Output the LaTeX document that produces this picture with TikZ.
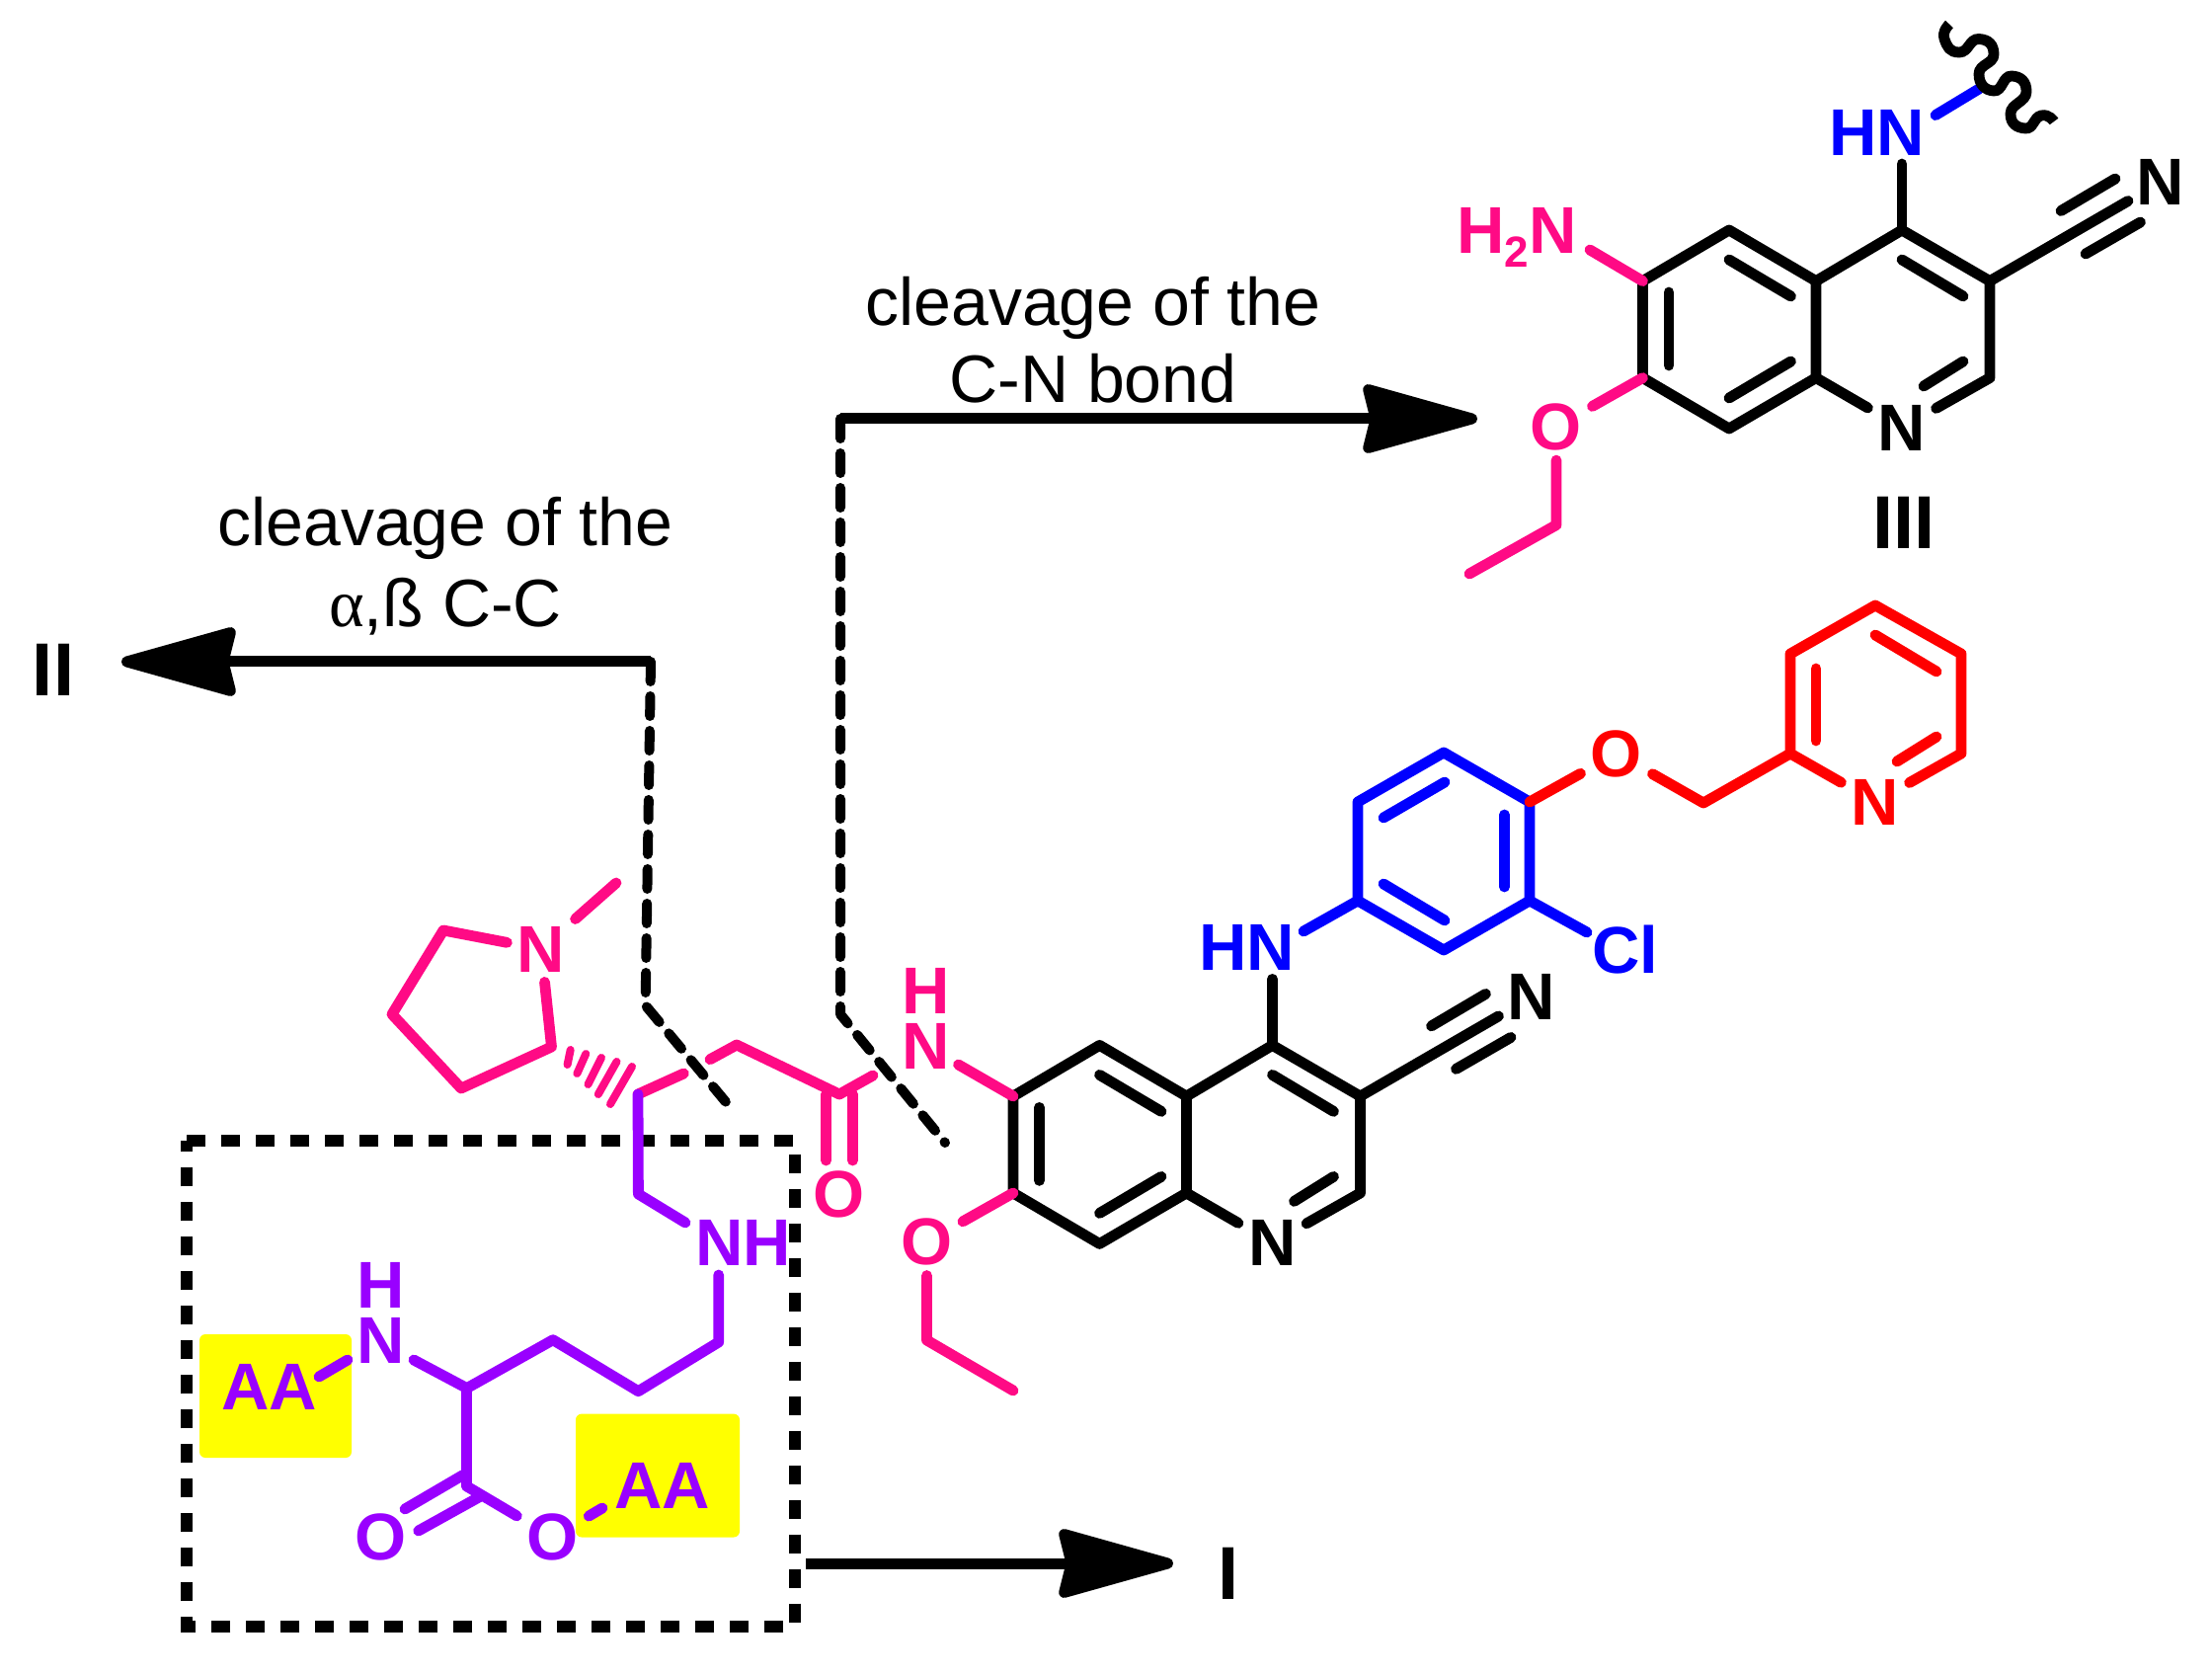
\documentclass[tikz,border=0pt]{standalone}
\usepackage{fontspec}
\setmainfont{Liberation Sans}
\newfontfamily\greekfont{Liberation Serif}
\usetikzlibrary{arrows.meta}
\definecolor{cpink}{HTML}{FF0A85}
\definecolor{cpurple}{HTML}{9900FF}
\definecolor{cblue}{HTML}{0000FF}
\definecolor{cred}{HTML}{FF0000}
\definecolor{cyell}{HTML}{FFFF00}
\tikzset{
  bond/.style={line width=5.4pt,line cap=round,line join=round},
  hashbond/.style={line width=4pt,line cap=round,cpink},
  atom/.style={font=\fontsize{33.5}{33.5}\selectfont\bfseries,inner sep=5pt},
  lab/.style={font=\fontsize{33.5}{33.5}\selectfont\bfseries,inner sep=0pt},
  stacked/.style={font=\fontsize{33.5}{28}\selectfont\bfseries,inner sep=0pt,align=center},
  roman/.style={font=\fontsize{38}{38}\selectfont\bfseries,inner sep=0pt,text=black},
  caption/.style={font=\fontsize{34}{34}\selectfont,inner sep=0pt,text=black},
  cut/.style={line width=5pt,line cap=round,line join=round,dash pattern=on 10pt off 7.5pt},
  region/.style={line width=6pt,dash pattern=on 9.5pt off 8pt,line join=miter},
  react/.style={line width=5.5pt,-{Stealth[length=66pt,width=36pt,inset=4pt,round]}},
  patch/.style={fill=cyell,rounded corners=3pt}
}
% quinoline core, with its cyano group: #1 prefix, #2 and #3 shift
\newcommand{\quincore}[3]{%
\begin{scope}[shift={(#2,#3)}]
  \coordinate (#1a1) at (1663.5,284.6);
  \coordinate (#1a2) at (1751,233);
  \coordinate (#1a3) at (1839,284.6);
  \coordinate (#1a4) at (1926,233);
  \coordinate (#1a5) at (2015,284.6);
  \coordinate (#1a6) at (2015,382.6);
  \coordinate (#1a8) at (1839,382.6);
  \coordinate (#1a9) at (1751,434);
  \coordinate (#1a10) at (1663.5,382.6);
  \node[atom,text=black] (#1n) at (1926,433) {N};
  \coordinate (#1i1) at (1751,263);   \coordinate (#1i2) at (1813.5,300);
  \coordinate (#1i3) at (1926,263);   \coordinate (#1i4) at (1988,300);
  \coordinate (#1i5) at (1690,296);   \coordinate (#1i6) at (1690,370);
  \coordinate (#1i7) at (1751,403);   \coordinate (#1i8) at (1813.5,366);
  \coordinate (#1i9) at (1948,391);   \coordinate (#1i10) at (1988,366);
  \coordinate (#1t0) at (2155,203.5);
  \coordinate (#1t1) at (2087,213.5); \coordinate (#1t2) at (2142,181);
  \coordinate (#1t3) at (2112,257);   \coordinate (#1t4) at (2167.5,225);
  \node[lab,text=black] (#1cn) at (2188,184) {N};
  \coordinate (#1hn) at (1926,166);
  \draw[bond] (#1a10) -- (#1a1) -- (#1a2) -- (#1a3) -- (#1a4) -- (#1a5) -- (#1a6) -- (#1n);
  \draw[bond] (#1a3) -- (#1a8) -- (#1n);
  \draw[bond] (#1a8) -- (#1a9) -- (#1a10);
  \draw[bond] (#1i1) -- (#1i2);
  \draw[bond] (#1i3) -- (#1i4);
  \draw[bond] (#1i5) -- (#1i6);
  \draw[bond] (#1i7) -- (#1i8);
  \draw[bond] (#1i9) -- (#1i10);
  \draw[bond] (#1a5) -- (#1t0);
  \draw[bond] (#1t1) -- (#1t2);
  \draw[bond] (#1t3) -- (#1t4);
  \draw[bond] (#1a4) -- (#1hn);
\end{scope}}
\begin{document}
\begin{tikzpicture}[x=0.5pt,y=-0.5pt]
\useasboundingbox (0,0) rectangle (2240,1695);
% yellow patches
\fill[patch] (202,1351) rectangle (356,1476);
\fill[patch] (583,1431.6) rectangle (749,1556.5);
% dashed region
\coordinate (ba) at (189,1154.6);
\coordinate (bb) at (805,1154.6);
\coordinate (bc) at (805,1647);
\coordinate (bd) at (189,1647);
\draw[region] (ba) -- (bb) -- (bc) -- (bd) -- cycle;

% ---- compound III
\quincore{x}{0}{0}
\node[lab,text=cblue] (xhnl) at (1900.5,134.5) {HN};
\coordinate (xw0) at (1960,116.6);
\coordinate (xw1) at (2004,90);
\draw[bond,cblue] (xw0) -- (xw1);
\draw[line width=5.4pt,line cap=butt] plot[smooth,tension=1] coordinates {(1974,24.5) (1969,39.5) (1984,53) (2004,39.5) (2019,55) (2004,75) (2019,92) (2037,77) (2052,93) (2036,115) (2051,130) (2067,117) (2080,123)};
\node[lab,text=cpink,anchor=base west] (xnh2) at (1475,257) {H\raisebox{-7pt}{\fontsize{22}{22}\selectfont 2}N};
\coordinate (xnb) at (1610,253);
\draw[bond,cpink] (xnb) -- (xa1);
\node[atom,text=cpink] (xo) at (1576,432) {O};
\coordinate (xe1) at (1576,531.6);
\coordinate (xe2) at (1488,581);
\draw[bond,cpink] (xa10) -- (xo);
\draw[bond,cpink] (xo) -- (xe1) -- (xe2);
\node[roman] (r3) at (1928,529) {III};

% ---- main compound, quinoline
\quincore{y}{-637.5}{825.4}
\node[lab,text=cblue] (yhnl) at (1263,959.9) {HN};
% side chain rings
\coordinate (b1) at (1375,912);
\coordinate (b2) at (1375,812);
\coordinate (b3) at (1462,762);
\coordinate (b4) at (1549,812);
\coordinate (b5) at (1549,912);
\coordinate (b6) at (1462,962);
\coordinate (yhb) at (1320,943);
\draw[bond,cblue] (yhb) -- (b1);
\draw[bond,cblue] (b1) -- (b2) -- (b3) -- (b4) -- (b5) -- (b6) -- cycle;
\coordinate (bi1) at (1463,792); \coordinate (bi2) at (1401,828);
\coordinate (bi3) at (1523.4,825); \coordinate (bi4) at (1523.4,898);
\coordinate (bi5) at (1401,895); \coordinate (bi6) at (1463,932);
\draw[bond,cblue] (bi1) -- (bi2);
\draw[bond,cblue] (bi3) -- (bi4);
\draw[bond,cblue] (bi5) -- (bi6);
\node[lab,text=cblue] (cl) at (1645.5,961.5) {Cl};
\coordinate (clb) at (1607,944);
\draw[bond,cblue] (b5) -- (clb);
\node[atom,text=cred] (oe) at (1637,763) {O};
\coordinate (ch2) at (1725,813);
\coordinate (p1) at (1813,763);
\coordinate (p2) at (1813,662);
\coordinate (p3) at (1899,613);
\coordinate (p4) at (1986,662);
\coordinate (p5) at (1986,763);
\node[atom,text=cred] (pn) at (1899,812) {N};
\draw[bond,cred] (b4) -- (oe);
\draw[bond,cred] (oe) -- (ch2) -- (p1) -- (p2) -- (p3) -- (p4) -- (p5) -- (pn);
\draw[bond,cred] (p1) -- (pn);
\coordinate (pi1) at (1839,677); \coordinate (pi2) at (1839,750);
\coordinate (pi3) at (1899,643); \coordinate (pi4) at (1961,680);
\coordinate (pi5) at (1961,746); \coordinate (pi6) at (1921,771);
\draw[bond,cred] (pi1) -- (pi2);
\draw[bond,cred] (pi3) -- (pi4);
\draw[bond,cred] (pi5) -- (pi6);

% ---- cut lines and arrows
\coordinate (s1) at (851,424);
\coordinate (s1c) at (851,1027);
\coordinate (s1e) at (957,1157);
\coordinate (t1) at (1496,424);
\draw[cut] (s1) -- (s1c) -- (s1e);
\draw[react] (s1) -- (t1);
\coordinate (s2) at (659,670);
\coordinate (s2c) at (653.6,1018);
\coordinate (s2e) at (736,1117);
\coordinate (t2) at (123,670);
\draw[cut] (s2) -- (s2c) -- (s2e);
\draw[react] (s2) -- (t2);
\coordinate (s3) at (816,1583);
\coordinate (t3) at (1188,1583);
\draw[react] (s3) -- (t3);
\node[roman] (r2) at (54,678) {II};
\node[roman] (r1) at (1244,1593) {I};
\node[caption] (c1) at (1107,312) {cleavage of the};
\node[caption] (c2) at (1107,383) {C-N bond};
\node[caption] (c3) at (451,535) {cleavage of the};
\node[caption] (c4) at (451,614) {{\greekfont α},ß C-C};

% ---- main compound, pink part
\node[atom,text=cpink] (pyn) at (548,961) {N};
\coordinate (me) at (624,894);
\coordinate (py1) at (449,942);
\coordinate (py2) at (397,1027);
\coordinate (py3) at (467,1102);
\coordinate (py4) at (558.5,1060);
\draw[bond,cpink] (pyn) -- (me);
\draw[bond,cpink] (pyn) -- (py1) -- (py2) -- (py3) -- (py4) -- (pyn);
\foreach \a/\b/\c/\d in {577.7/1063/574.6/1078,593.3/1067/584.4/1087,609/1071/595.5/1098,624.5/1075/605.8/1108,640/1080/618/1118}{
  \draw[hashbond] (\a,\b) -- (\c,\d);
}
\coordinate (c0) at (646,1108);
\coordinate (c0e) at (692.4,1087);
\coordinate (c1s) at (719,1072.7);
\coordinate (c2p) at (746,1058);
\coordinate (c3p) at (850,1108);
\coordinate (c3e) at (884,1089);
\draw[bond,cpink] (c0) -- (c0e);
\draw[bond,cpink] (c1s) -- (c2p) -- (c3p) -- (c3e);
\coordinate (d1) at (836.6,1108); \coordinate (d2) at (836.6,1175);
\coordinate (d3) at (863.4,1108); \coordinate (d4) at (863.4,1175);
\draw[bond,cpink] (d1) -- (d2);
\draw[bond,cpink] (d3) -- (d4);
\node[lab,text=cpink] (co) at (850,1209) {O};
\node[stacked,text=cpink] (amn) at (938,1031) {H\\N};
\coordinate (amb) at (970.5,1078);
\draw[bond,cpink] (amb) -- (ya1);
\node[atom,text=cpink] (yo) at (938.5,1257.4) {O};
\coordinate (ye1) at (938.5,1357);
\coordinate (ye2) at (1026,1408);
\draw[bond,cpink] (ya10) -- (yo);
\draw[bond,cpink] (yo) -- (ye1) -- (ye2);

% ---- main compound, purple part
\coordinate (u1) at (646.4,1209);
\coordinate (u2) at (694,1238);
\node[lab,text=cpurple] (unh) at (752.5,1258.5) {NH};
\coordinate (u3) at (727.7,1291);
\coordinate (u4) at (727.7,1359);
\coordinate (u5) at (646.4,1408.7);
\coordinate (u6) at (560,1356.7);
\coordinate (u7) at (472.8,1405.6);
\coordinate (u7e) at (419,1377);
\node[stacked,text=cpurple] (un) at (385.7,1329) {H\\N};
\draw[bond,cpurple] (c0) -- (u1) -- (u2);
\draw[bond,cpurple] (u3) -- (u4) -- (u5) -- (u6) -- (u7) -- (u7e);
\node[lab,text=cpurple] (aa1) at (272.5,1404) {AA};
\coordinate (aa1a) at (352,1377);
\coordinate (aa1b) at (323,1394);
\draw[bond,cpurple] (aa1a) -- (aa1b);
\coordinate (u8) at (472.8,1505);
\draw[bond,cpurple] (u7) -- (u8);
\coordinate (k1) at (410,1528); \coordinate (k2) at (469,1493.5);
\coordinate (k3) at (423.7,1550); \coordinate (k4) at (485,1516);
\draw[bond,cpurple] (k1) -- (k2);
\draw[bond,cpurple] (k3) -- (k4);
\node[lab,text=cpurple] (uo1) at (385.7,1556.5) {O};
\node[atom,text=cpurple] (uo2) at (559.8,1556.5) {O};
\draw[bond,cpurple] (u8) -- (uo2);
\coordinate (aa2b) at (610,1527);
\draw[bond,cpurple] (uo2) -- (aa2b);
\node[lab,text=cpurple] (aa2) at (670.5,1504) {AA};
\end{tikzpicture}
\end{document}
